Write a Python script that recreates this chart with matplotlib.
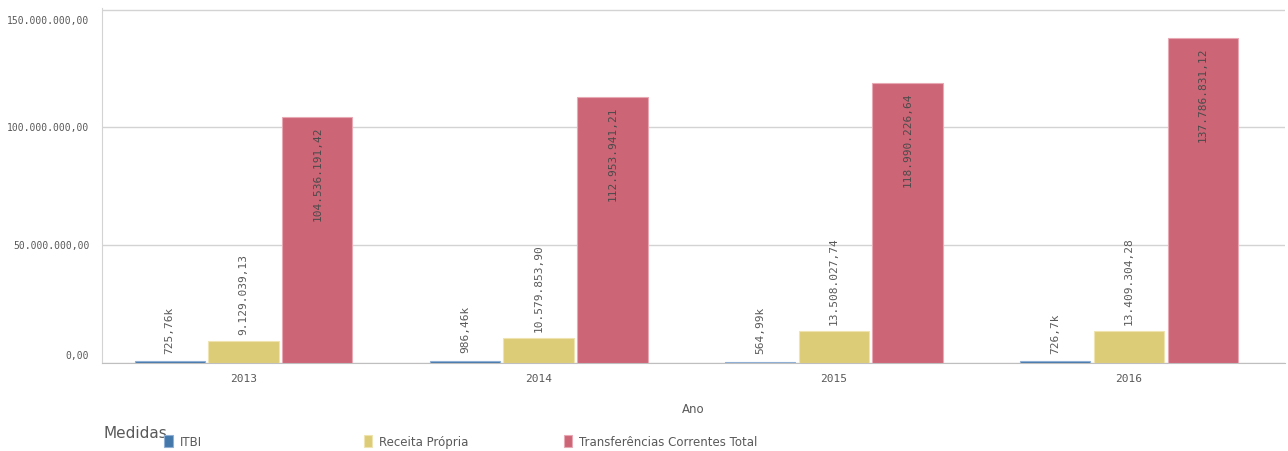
import numpy as np
from matplotlib import pyplot as plt

# dados
anos = ["2013", "2014", "2015", "2016"]
itbi = [725760, 986460, 564990, 726700]
receita_propria = [9129039.13, 10579853.90, 13508027.74, 13409304.28]
transferencias = [104536191.42, 112953941.21, 118990226.64, 137786831.12]

itbi_labels = ["725,76k", "986,46k", "564,99k", "726,7k"]
series = [
    ("ITBI", itbi, "#4477aa", "#8fb0d4"),
    ("Receita Própria", receita_propria, "#ddcc77", "#efe4b0"),
    ("Transferências Correntes Total", transferencias, "#cc6677", "#e8a9b4"),
]
y_ticks = [0, 50000000, 100000000, 150000000]


def fmt_br(v):
    # formato brasileiro: 1.234.567,89
    s = "{:,.2f}".format(v)
    return s.replace(",", "X").replace(".", ",").replace("X", ".")


mono = "DejaVu Sans Mono"
grey = "#595959"

fig = plt.figure(figsize=(12.88, 4.52), dpi=100)
ax = fig.add_axes([0.079, 0.195, 0.919, 0.785])

x = np.arange(len(anos))
w = 0.25
gap = 0.006
bars = []
for i, (name, vals, color, edge) in enumerate(series):
    b = ax.bar(x + (i - 1) * w, vals, width=w - 2 * gap, color=color,
               edgecolor=edge, linewidth=0.8, label=name, zorder=3)
    bars.append(b)

# rotulos de valor
for i, (name, vals, color, edge) in enumerate(series):
    for j, v in enumerate(vals):
        xx = x[j] + (i - 1) * w
        if i == 0:
            ax.annotate(itbi_labels[j], (xx, v), xytext=(0, 6), textcoords="offset points",
                        rotation=90, ha="center", va="bottom", fontsize=8,
                        family=mono, color=grey, zorder=4)
        elif i == 1:
            ax.annotate(fmt_br(v), (xx, v), xytext=(0, 5), textcoords="offset points",
                        rotation=90, ha="center", va="bottom", fontsize=8,
                        family=mono, color=grey, zorder=4)
        else:
            ax.annotate(fmt_br(v), (xx, v), xytext=(0, -6), textcoords="offset points",
                        rotation=90, ha="center", va="top", fontsize=8,
                        family=mono, color="#4a4a4a", zorder=4)

ax.set_xlim(-0.48, 3.53)
ax.set_ylim(0, 150700000)
ax.set_xticks(x)
ax.set_xticklabels(anos, family=mono, fontsize=8, color=grey)
ax.set_yticks(y_ticks)
ax.set_yticklabels([])
ax.tick_params(axis="both", length=0)
ax.tick_params(axis="x", pad=7)

# rotulos do eixo y (o primeiro e o ultimo ficam para dentro, como no Qlik)
for t in y_ticks:
    va = "center"
    dy = 0
    if t == y_ticks[0]:
        va = "bottom"
        dy = 2
    elif t == y_ticks[-1]:
        va = "top"
        dy = -4
    ax.annotate(fmt_br(t), (0, t), xycoords=("axes fraction", "data"),
                xytext=(-9, dy), textcoords="offset points", ha="right", va=va,
                fontsize=7, family=mono, color=grey)

ax.grid(axis="y", color="#d3d3d3", linewidth=1, zorder=0)
for s in ["top", "right"]:
    ax.spines[s].set_visible(False)
ax.spines["left"].set_color("#d3d3d3")
ax.spines["bottom"].set_color("#bfbfbf")

ax.set_xlabel("Ano", fontsize=8.5, color=grey, labelpad=14)

# legenda
fig.text(0.080, 0.040, "Medidas", fontsize=11, color=grey, va="center")
leg_x = [0.124, 0.279, 0.434]
for b, (name, vals, color, edge), lx in zip(bars, series, leg_x):
    lg = fig.legend([b], [name], loc="center left", bbox_to_anchor=(lx, 0.022),
                    frameon=False, handlelength=0.7, handleheight=1.2,
                    handletextpad=0.6, borderaxespad=0, fontsize=8.5)
    for t in lg.get_texts():
        t.set_color(grey)

fig.savefig("out.png", dpi=100)
